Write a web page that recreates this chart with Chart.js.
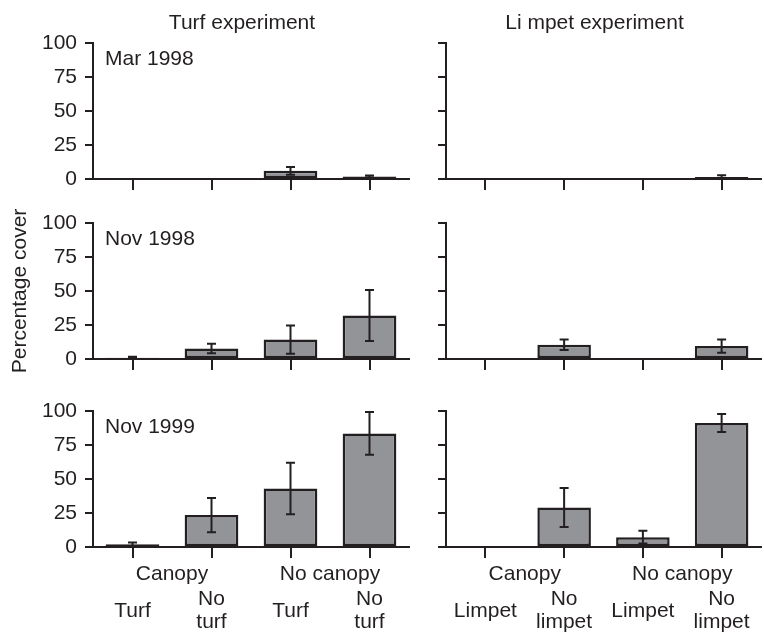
<!DOCTYPE html>
<html>
<head>
<meta charset="utf-8">
<script src="https://cdn.jsdelivr.net/npm/chart.js@4.4.1/dist/chart.umd.min.js"></script>
<style>
  body { margin: 0; background: #fff; }
  #wrap { position: relative; width: 764px; height: 633px; overflow: hidden; }
  canvas { position: absolute; }
</style>
</head>
<body>
<div id="wrap">
  <canvas id="c11" width="412" height="193" style="left:0;top:0"></canvas>
  <canvas id="c12" width="364" height="193" style="left:400px;top:0"></canvas>
  <canvas id="c21" width="412" height="173" style="left:0;top:200px"></canvas>
  <canvas id="c22" width="364" height="173" style="left:400px;top:200px"></canvas>
  <canvas id="c31" width="412" height="243" style="left:0;top:390px"></canvas>
  <canvas id="c32" width="364" height="243" style="left:400px;top:390px"></canvas>
</div>
<script>
// categories / labels
const turfLabels = [['Turf'], ['No', 'turf'], ['Turf'], ['No', 'turf']];
const limpetLabels = [['Limpet'], ['No', 'limpet'], ['Limpet'], ['No', 'limpet']];
const canopyGroups = ['Canopy', 'No canopy'];
const dates = ['Mar 1998', 'Nov 1998', 'Nov 1999'];
const panelTitles = ['Turf experiment', 'Li mpet experiment'];
const yTicks = [0, 25, 50, 75, 100];

// mean percentage cover and error
const turfMar98 = [0.5, 0, 6, 1.8];
const turfMar98Err = [0, 0, 2.8, 0.8];
const turfNov98 = [1, 7.8, 14.3, 32];
const turfNov98Err = [0.7, 3.5, 10.4, 18.7];
const turfNov99 = [2, 23.5, 43, 83.5];
const turfNov99Err = [1.4, 12.6, 19, 15.7];

const limpetMar98 = [0, 0.3, 0, 1.5];
const limpetMar98Err = [0, 0, 0, 1.2];
const limpetNov98 = [0, 10.5, 0.3, 9.5];
const limpetNov98Err = [0, 3.8, 0, 4.9];
const limpetNov99 = [0, 29, 7.2, 91.2];
const limpetNov99Err = [0, 14.3, 4.7, 6.6];

const ink = '#231f20';
const barFill = '#929497';
const fontFamily = '"Liberation Sans", Arial, Helvetica, sans-serif';

// error bars drawn from the y scale
const errorBars = {
  id: 'errorBars',
  afterDatasetsDraw(chart) {
    const ctx = chart.ctx;
    const y = chart.scales.y;
    chart.data.datasets.forEach((ds, di) => {
      const meta = chart.getDatasetMeta(di);
      meta.data.forEach((bar, i) => {
        const e = ds.errors[i];
        if (!e) return;
        const v = ds.data[i];
        const top = y.getPixelForValue(v + e);
        const bot = y.getPixelForValue(Math.max(v - e, 0));
        ctx.save();
        ctx.strokeStyle = ink;
        ctx.lineWidth = 2;
        ctx.beginPath();
        ctx.moveTo(bar.x, top); ctx.lineTo(bar.x, bot);
        ctx.moveTo(bar.x - 4.5, top); ctx.lineTo(bar.x + 4.5, top);
        ctx.moveTo(bar.x - 4.5, bot); ctx.lineTo(bar.x + 4.5, bot);
        ctx.stroke();
        ctx.restore();
      });
    });
  }
};

// date labels, column titles and canopy group labels
const panelText = {
  id: 'panelText',
  afterDraw(chart, args, o) {
    const ctx = chart.ctx;
    const a = chart.chartArea;
    ctx.save();
    ctx.fillStyle = ink;
    ctx.font = '21px ' + fontFamily;
    ctx.textBaseline = 'middle';
    if (o.date) {
      ctx.textAlign = 'left';
      ctx.fillText(o.date, a.left + 12, a.top + 16);
    }
    if (o.title) {
      ctx.textAlign = 'center';
      ctx.fillText(o.title, (a.left + a.right) / 2 - 9, 23);
    }
    if (o.groups) {
      const x = chart.scales.x;
      ctx.textAlign = 'center';
      o.groups.forEach((g, i) => {
        const mid = (x.getPixelForValue(2 * i) + x.getPixelForValue(2 * i + 1)) / 2;
        ctx.fillText(g, mid, a.bottom + 27.5);
      });
    }
    ctx.restore();
  }
};

// label overflow padding is not wanted: the panels must line up exactly
function noPad(s) {
  s.paddingLeft = 0; s.paddingRight = 0; s.paddingTop = 0; s.paddingBottom = 0;
}

function makePanel(id, labels, values, errors, p) {
  const ctx = document.getElementById(id).getContext('2d');
  return new Chart(ctx, {
    type: 'bar',
    data: {
      labels: labels,
      datasets: [{
        data: values,
        errors: errors,
        backgroundColor: barFill,
        borderColor: ink,
        borderWidth: 2.5,
        borderSkipped: false,
        barPercentage: 0.68,
        categoryPercentage: 1
      }]
    },
    options: {
      responsive: false,
      animation: false,
      devicePixelRatio: 1,
      layout: { padding: { top: p.padTop, right: 3, left: 0, bottom: 0 } },
      plugins: {
        legend: { display: false },
        tooltip: { enabled: false },
        panelText: { date: p.date, title: p.title, groups: p.groups }
      },
      scales: {
        x: {
          offset: true,
          grid: { offset: false, drawOnChartArea: false, tickLength: 11, lineWidth: 2, color: ink },
          border: { display: true, color: ink, width: 2 },
          ticks: {
            display: p.showX,
            autoSkip: false,
            maxRotation: 0,
            crossAlign: 'center',
            padding: 41.5,
            color: ink,
            font: { family: fontFamily, size: 21, lineHeight: 1.1 }
          },
          afterFit(s) { s.height = p.xHeight; noPad(s); }
        },
        y: {
          min: 0,
          max: 100,
          afterBuildTicks(s) { s.ticks = yTicks.map(v => ({ value: v })); },
          grid: { drawOnChartArea: false, tickLength: 8, lineWidth: 2, color: ink },
          border: { display: true, color: ink, width: 2 },
          ticks: {
            display: p.showY,
            padding: 8,
            color: ink,
            font: { family: fontFamily, size: 21 }
          },
          title: {
            display: !!p.yTitle,
            text: p.yTitle || '',
            color: ink,
            font: { family: fontFamily, size: 21 },
            padding: { top: 8, bottom: 0 }
          },
          afterFit(s) { s.width = p.yWidth; noPad(s); }
        }
      }
    },
    plugins: [errorBars, panelText]
  });
}

const left = { showY: true, yWidth: 93 };
const right = { showY: false, yWidth: 46 };

makePanel('c11', turfLabels, turfMar98, turfMar98Err,
  Object.assign({}, left, { padTop: 43, xHeight: 14, showX: false, date: dates[0], title: panelTitles[0] }));
makePanel('c12', limpetLabels, limpetMar98, limpetMar98Err,
  Object.assign({}, right, { padTop: 43, xHeight: 14, showX: false, title: panelTitles[1] }));
makePanel('c21', turfLabels, turfNov98, turfNov98Err,
  Object.assign({}, left, { padTop: 23, xHeight: 14, showX: false, date: dates[1], yTitle: 'Percentage cover' }));
makePanel('c22', limpetLabels, limpetNov98, limpetNov98Err,
  Object.assign({}, right, { padTop: 23, xHeight: 14, showX: false }));
makePanel('c31', turfLabels, turfNov99, turfNov99Err,
  Object.assign({}, left, { padTop: 21, xHeight: 86, showX: true, date: dates[2], groups: canopyGroups }));
makePanel('c32', limpetLabels, limpetNov99, limpetNov99Err,
  Object.assign({}, right, { padTop: 21, xHeight: 86, showX: true, groups: canopyGroups }));
</script>
</body>
</html>
